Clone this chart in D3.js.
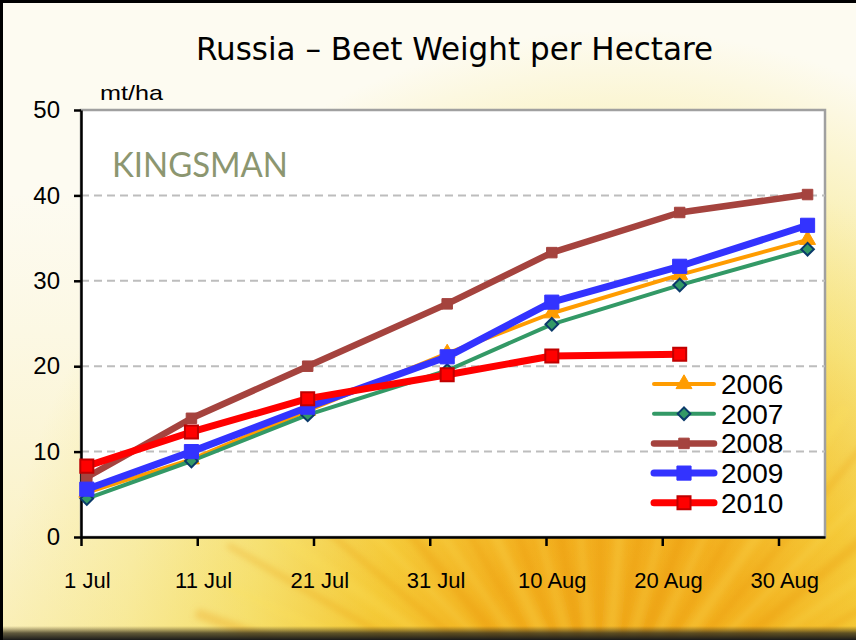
<!DOCTYPE html>
<html>
<head>
<meta charset="utf-8">
<script src="https://cdn.jsdelivr.net/npm/d3@7"></script>
<style>
  html, body { margin: 0; padding: 0; background: #fff; }
  svg { display: block; }
  .axis text { font-family: "Liberation Sans", Arial, sans-serif; font-size: 22px; fill: #000; }
  .axis.y text { font-size: 24px; }
  .axis line, .axis path { stroke: #000; stroke-width: 2.5; }
</style>
</head>
<body>
<svg id="chart" width="856" height="640"></svg>
<script>
// ---- data ----
const DATES = ["2010-07-01", "2010-07-10", "2010-07-20", "2010-08-01", "2010-08-10", "2010-08-21", "2010-09-01"];
const Y2006 = [5.2, 9.1, 14.8, 21.5, 26.2, 30.7, 34.8];
const Y2007 = [4.5, 8.9, 14.3, 19.5, 24.9, 29.5, 33.7];
const Y2008 = [7.0, 13.9, 20.0, 27.3, 33.3, 38.0, 40.1];
const Y2009 = [5.6, 10.0, 15.2, 21.1, 27.5, 31.7, 36.5];
const Y2010 = [8.3, 12.3, 16.2, 19.0, 21.2, 21.4];
const YEARS = ["2006", "2007", "2008", "2009", "2010"];
const X_TICKS = ["2010-07-01", "2010-07-11", "2010-07-21", "2010-07-31", "2010-08-10", "2010-08-20", "2010-08-30"];
const X_TICK_LABELS = ["1 Jul", "11 Jul", "21 Jul", "31 Jul", "10 Aug", "20 Aug", "30 Aug"];
const Y_TICKS = [0, 10, 20, 30, 40, 50];

// ---- styles per series ----
const STYLE = {
  "2006": { color: "#FF9C00", width: 4,   marker: "triangle", size: 110, stroke: "#FF9C00", sw: 1 },
  "2007": { color: "#339966", width: 4,   marker: "diamond",  size: 80,  stroke: "#0A3A6A", sw: 2 },
  "2008": { color: "#A5433E", width: 6.5, marker: "square",   size: 110, stroke: "#A5433E", sw: 1 },
  "2009": { color: "#3333FF", width: 7,   marker: "square",   size: 200, stroke: "#3333FF", sw: 1 },
  "2010": { color: "#FF0000", width: 7,   marker: "square",   size: 170, stroke: "#C00000", sw: 2 }
};

const parse = d3.timeParse("%Y-%m-%d");
const noon = s => d3.timeHour.offset(parse(s), 12);
const VALUES = { "2006": Y2006, "2007": Y2007, "2008": Y2008, "2009": Y2009, "2010": Y2010 };
const series = YEARS.map(y => ({
  year: y,
  pts: VALUES[y].map((v, i) => ({ date: noon(DATES[i]), v }))
}));

const W = 856, H = 640;
const P = { l: 81, r: 825, t: 110, b: 537 };

const svg = d3.select("#chart");
const defs = svg.append("defs");

/* ===================== BACKGROUND ===================== */
const rg = defs.append("radialGradient").attr("id", "sun")
  .attr("gradientUnits", "userSpaceOnUse")
  .attr("cx", 620).attr("cy", 650).attr("r", 620);
[[0, "#EE9404"], [0.22, "#F29F0A"], [0.4, "#F5C22C"], [0.6, "#F7E27A"], [0.8, "#FAF2C0"], [1, "#FDFBF1"]]
  .forEach(([o, c]) => rg.append("stop").attr("offset", o).attr("stop-color", c));

const lg = defs.append("linearGradient").attr("id", "bottomwash")
  .attr("x1", 0).attr("y1", 0).attr("x2", 0).attr("y2", 1);
lg.append("stop").attr("offset", 0.3).attr("stop-color", "#F4E38A").attr("stop-opacity", 0);
lg.append("stop").attr("offset", 1).attr("stop-color", "#F3D848").attr("stop-opacity", 0.35);

const shade = defs.append("linearGradient").attr("id", "shade")
  .attr("x1", 0).attr("y1", 0).attr("x2", 0).attr("y2", 1);
shade.append("stop").attr("offset", 0).attr("stop-color", "#5a4a20").attr("stop-opacity", 0);
shade.append("stop").attr("offset", 0.5).attr("stop-color", "#3a3420").attr("stop-opacity", 0.8);
shade.append("stop").attr("offset", 1).attr("stop-color", "#1a1a1a").attr("stop-opacity", 1);

defs.append("filter").attr("id", "blur").attr("x", "-20%").attr("y", "-20%").attr("width", "140%").attr("height", "140%")
  .append("feGaussianBlur").attr("stdDeviation", 3);

svg.append("rect").attr("width", W).attr("height", H).attr("fill", "url(#sun)");
svg.append("rect").attr("width", W).attr("height", H).attr("fill", "url(#bottomwash)");

// sunflower rays
const rays = svg.append("g").attr("filter", "url(#blur)");
d3.range(-70, 71, 5).forEach((a, i) => {
  const rad = (a - 90) * Math.PI / 180;
  const cx = 600, cy = 760;
  rays.append("line")
    .attr("x1", cx + Math.cos(rad) * 120).attr("y1", cy + Math.sin(rad) * 120)
    .attr("x2", cx + Math.cos(rad) * 430).attr("y2", cy + Math.sin(rad) * 430)
    .attr("stroke", i % 2 ? "#FBE25A" : "#E88C06")
    .attr("stroke-width", i % 3 ? 6 : 10)
    .attr("stroke-opacity", 0.25);
});

/* ===================== PLOT AREA ===================== */
svg.append("rect")
  .attr("x", P.l).attr("y", P.t).attr("width", P.r - P.l).attr("height", P.b - P.t)
  .attr("fill", "#fff").attr("stroke", "#A0A0A0").attr("stroke-width", 2.5);

const x = d3.scaleTime().domain([parse("2010-07-01"), parse("2010-09-03")]).range([P.l, P.r]);
const y = d3.scaleLinear().domain([0, 50]).range([P.b, P.t]);
const halfDay = x(noon("2010-07-01")) - x(parse("2010-07-01"));

// grid
svg.append("g").selectAll("line").data(Y_TICKS.filter(v => v > 0 && v < 50)).join("line")
  .attr("x1", P.l).attr("x2", P.r)
  .attr("y1", d => y(d)).attr("y2", d => y(d))
  .attr("stroke", "#BDBDBD").attr("stroke-width", 2).attr("stroke-dasharray", "8,5");

// axes
svg.append("g").attr("class", "axis y").attr("transform", `translate(${P.l},0)`)
  .call(d3.axisLeft(y).tickValues(Y_TICKS).tickSize(7).tickSizeOuter(0).tickPadding(14));

const xAxis = svg.append("g").attr("class", "axis x").attr("transform", `translate(0,${P.b})`)
  .call(d3.axisBottom(x).tickValues(X_TICKS.map(parse)).tickSize(9).tickSizeOuter(0).tickPadding(26)
    .tickFormat((d, i) => X_TICK_LABELS[i]));
xAxis.selectAll("text").attr("dx", halfDay);

/* ===================== SERIES ===================== */
const line = d3.line().x(d => x(d.date)).y(d => y(d.v));
const symFor = s => {
  if (s.marker === "triangle") return d3.symbol(d3.symbolTriangle, s.size)();
  return d3.symbol(d3.symbolSquare, s.size)();
};

const sg = svg.append("g").selectAll("g").data(series).join("g");
sg.append("path")
  .attr("d", d => line(d.pts))
  .attr("fill", "none")
  .attr("stroke", d => STYLE[d.year].color)
  .attr("stroke-width", d => STYLE[d.year].width)
  .attr("stroke-linejoin", "round")
  .attr("stroke-linecap", "round");
sg.each(function(d) {
  const s = STYLE[d.year];
  d3.select(this).selectAll("path.m").data(d.pts).join("path")
    .attr("class", "m")
    .attr("d", symFor(s))
    .attr("transform", p => `translate(${x(p.date)},${y(p.v)})` + (s.marker === "diamond" ? " rotate(45)" : ""))
    .attr("fill", s.color)
    .attr("stroke", s.stroke)
    .attr("stroke-width", s.sw);
});

/* ===================== LEGEND ===================== */
const leg = svg.append("g").selectAll("g").data(YEARS).join("g")
  .attr("transform", (d, i) => `translate(0,${384 + i * 29.7})`);
leg.append("line")
  .attr("x1", 654).attr("x2", 714).attr("y1", 0).attr("y2", 0)
  .attr("stroke", d => STYLE[d].color)
  .attr("stroke-width", d => STYLE[d].width)
  .attr("stroke-linecap", "round");
leg.append("path")
  .attr("d", d => symFor(STYLE[d]))
  .attr("transform", d => "translate(684,0)" + (STYLE[d].marker === "diamond" ? " rotate(45)" : ""))
  .attr("fill", d => STYLE[d].color)
  .attr("stroke", d => STYLE[d].stroke)
  .attr("stroke-width", d => STYLE[d].sw);
leg.append("text")
  .attr("x", 721).attr("y", 0).attr("dy", "0.36em")
  .style("font-family", "\"Liberation Sans\", Arial, sans-serif")
  .style("font-size", "28px")
  .text(d => d);

/* ===================== TEXTS ===================== */
svg.append("text")
  .attr("x", 196).attr("y", 60)
  .attr("textLength", 517).attr("lengthAdjust", "spacingAndGlyphs")
  .style("font-family", "\"DejaVu Sans Condensed\", \"DejaVu Sans\", sans-serif")
  .style("font-size", "32px")
  .text("Russia – Beet Weight per Hectare");

svg.append("text")
  .attr("x", 100).attr("y", 100)
  .attr("textLength", 63).attr("lengthAdjust", "spacingAndGlyphs")
  .style("font-family", "\"Liberation Sans\", Arial, sans-serif")
  .style("font-size", "21px")
  .text("mt/ha");

svg.append("text")
  .attr("x", 112).attr("y", 177)
  .attr("textLength", 176).attr("lengthAdjust", "spacingAndGlyphs")
  .style("font-family", "Lato, \"Open Sans\", sans-serif")
  .style("font-size", "34px")
  .attr("fill", "#8C9670")
  .text("KINGSMAN");

/* ===================== FRAME ===================== */
svg.append("rect").attr("x", 0).attr("y", 626).attr("width", W).attr("height", 14).attr("fill", "url(#shade)");
svg.append("path")
  .attr("d", `M1.5,${H} L1.5,1.5 L${W},1.5`)
  .attr("fill", "none").attr("stroke", "#000").attr("stroke-width", 3);
</script>
</body>
</html>
